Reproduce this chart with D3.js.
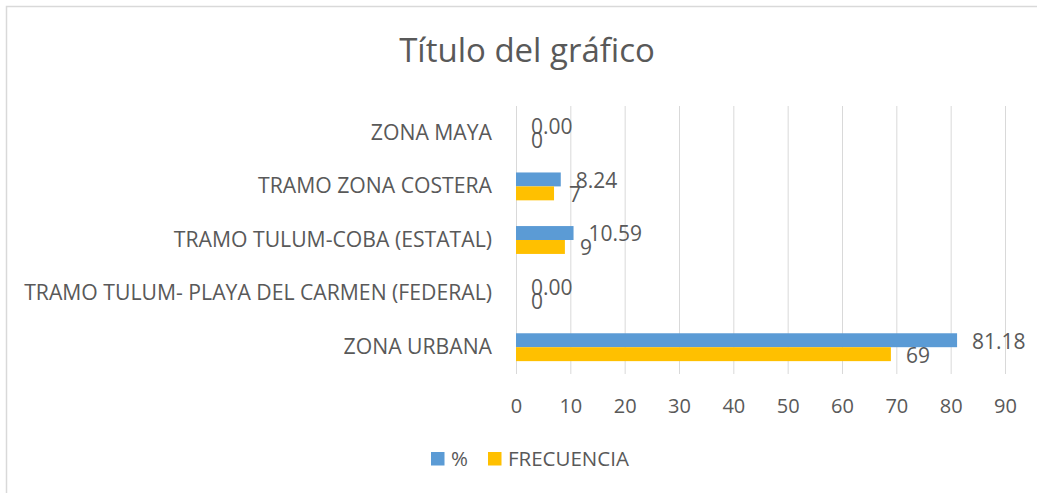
<!DOCTYPE html>
<html>
<head>
<meta charset="utf-8">
<script src="https://cdn.jsdelivr.net/npm/d3@7"></script>
<style>
  body { margin: 0; background: #fff; }
  svg { display: block; font-family: "Open Sans", sans-serif; }
</style>
</head>
<body>
<div id="chart"></div>
<script>
const categories = [
  "ZONA MAYA",
  "TRAMO ZONA COSTERA",
  "TRAMO TULUM-COBA (ESTATAL)",
  "TRAMO TULUM- PLAYA DEL CARMEN (FEDERAL)",
  "ZONA URBANA"
];
const porcentaje = [0.00, 8.24, 10.59, 0.00, 81.18];
const frecuencia = [0, 7, 9, 0, 69];
const seriesNames = ["%", "FRECUENCIA"];
const xTicks = [0, 10, 20, 30, 40, 50, 60, 70, 80, 90];

const W = 1037, H = 493;
const margin = { top: 106, right: 32, bottom: 119, left: 516 },
      width = W - margin.left - margin.right,
      height = H - margin.top - margin.bottom;

const colors = ["#5B9BD5", "#FFC000"];
const textColor = "#595959";

const data = categories.map((c, i) => ({
  cat: c,
  values: [porcentaje[i], frecuencia[i]]
}));

const root = d3.select("#chart")
  .append("svg")
  .attr("width", W)
  .attr("height", H);

// chart border (continues past right/bottom edge)
root.append("rect")
  .attr("x", 6.5)
  .attr("y", 6.5)
  .attr("width", W + 20)
  .attr("height", H + 20)
  .attr("fill", "none")
  .attr("stroke", "#d9d9d9")
  .attr("stroke-width", 1.5);

root.append("text")
  .attr("x", 527)
  .attr("y", 62)
  .attr("text-anchor", "middle")
  .style("font-size", "33px")
  .style("fill", textColor)
  .text("Título del gráfico");

const svg = root.append("g")
  .attr("transform", `translate(${margin.left},${margin.top})`);

const x = d3.scaleLinear()
  .domain([0, 90])
  .range([0, width]);

const y = d3.scaleBand()
  .domain(categories)
  .range([0, height])
  .paddingInner(0.48)
  .paddingOuter(0.24);

const ySub = d3.scaleBand()
  .domain([0, 1])
  .range([0, y.bandwidth()]);

// gridlines
svg.append("g")
  .selectAll("line")
  .data(xTicks)
  .join("line")
  .attr("x1", d => x(d) + 0.5)
  .attr("x2", d => x(d) + 0.5)
  .attr("y1", 0)
  .attr("y2", height)
  .attr("stroke", "#d9d9d9")
  .attr("stroke-width", 1);

// x axis labels
const xAxis = svg.append("g")
  .attr("transform", `translate(0,${height})`)
  .call(d3.axisBottom(x).tickValues(xTicks).tickSize(0).tickPadding(25));
xAxis.select(".domain").remove();
xAxis.selectAll("text")
  .style("font-size", "20px")
  .style("font-family", "'Open Sans', sans-serif")
  .attr("fill", textColor);

// y axis labels
const yAxis = svg.append("g")
  .call(d3.axisLeft(y).tickSize(0).tickPadding(24));
yAxis.select(".domain").remove();
yAxis.selectAll("text")
  .style("font-size", "21.2px")
  .style("font-family", "'Open Sans', sans-serif")
  .attr("fill", textColor);

// bars
const groups = svg.append("g")
  .selectAll("g")
  .data(data)
  .join("g")
  .attr("transform", d => `translate(0,${y(d.cat)})`);

groups.selectAll("rect")
  .data(d => d.values)
  .join("rect")
  .attr("x", x(0))
  .attr("y", (d, i) => ySub(i))
  .attr("width", d => x(d) - x(0))
  .attr("height", ySub.bandwidth())
  .attr("fill", (d, i) => colors[i]);

// data labels (Excel lets them overlap for zero values)
groups.selectAll("text")
  .data(d => d.values)
  .join("text")
  .attr("x", d => x(d) + 15)
  .attr("y", (d, i) => ySub(i) + ySub.bandwidth() / 2 + 1)
  .attr("dy", "0.35em")
  .style("font-size", "21px")
  .style("fill", textColor)
  .text((d, i) => i === 0 ? d.toFixed(2) : d);

// legend
const legendItems = [
  { name: seriesNames[0], color: colors[0], x: 431 },
  { name: seriesNames[1], color: colors[1], x: 488 }
];
const legend = root.append("g")
  .selectAll("g")
  .data(legendItems)
  .join("g")
  .attr("transform", d => `translate(${d.x},452)`);

legend.append("rect")
  .attr("width", 13.5)
  .attr("height", 13.5)
  .attr("fill", d => d.color);

legend.append("text")
  .attr("x", 20)
  .attr("y", 7)
  .attr("dy", "0.35em")
  .style("font-size", "20.5px")
  .style("fill", textColor)
  .text(d => d.name);
</script>
</body>
</html>
